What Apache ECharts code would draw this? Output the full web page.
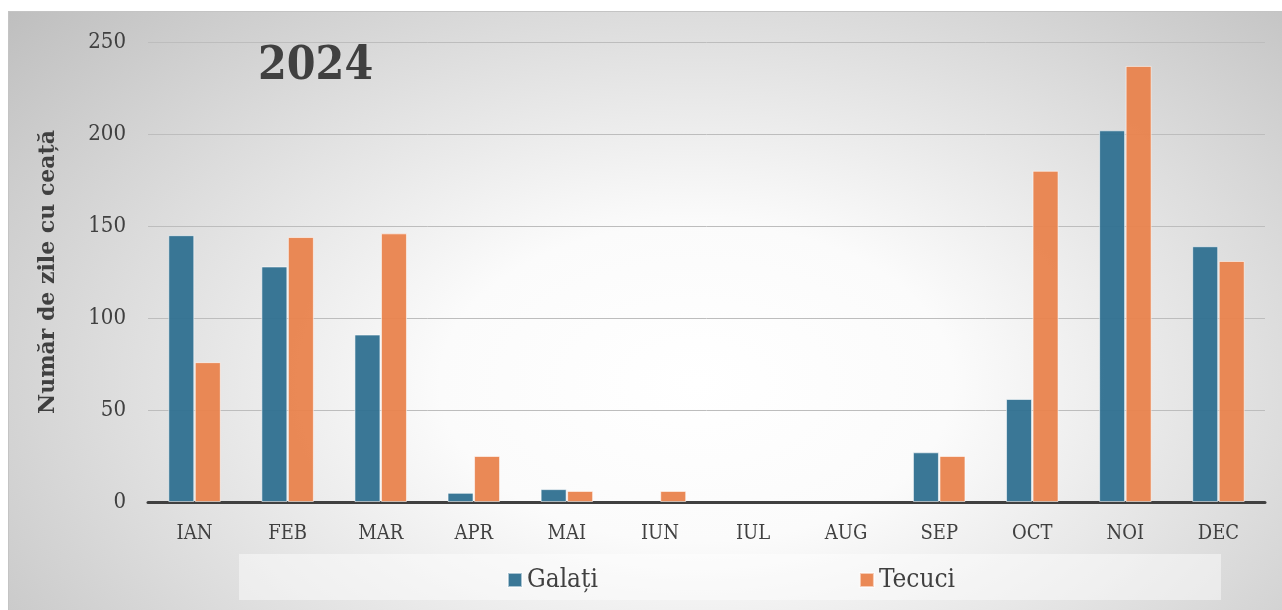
<!DOCTYPE html>
<html><head><meta charset="utf-8">
<script src="https://cdn.jsdelivr.net/npm/echarts@6/dist/echarts.min.js"></script>
<style>
html,body{margin:0;padding:0;background:#fff;width:1282px;height:610px;overflow:hidden}
#c{position:absolute;left:8px;top:11px;width:1274px;height:599px;border-top:1px solid #c4c4c4;border-left:1px solid #c4c4c4;box-sizing:border-box;
background:radial-gradient(ellipse 72% 95% at 54% 62%, #ffffff 0%, #fbfbfb 28%, #dcdcdc 65%, #bebebe 100%)}
</style></head>
<body><div id="c"></div>
<script>
const categories = ['IAN','FEB','MAR','APR','MAI','IUN','IUL','AUG','SEP','OCT','NOI','DEC'];
const galati = [145,128,91,5,7,0,0,0,27,56,202,139];
const tecuci = [76,144,146,25,6,6,0,0,25,180,237,131];
const yTicks = [0,50,100,150,200,250];
const FONT = '"DejaVu Serif Condensed","DejaVu Serif"';
const toItems = arr => arr.map(v => v === 0 ? {value:0,itemStyle:{borderWidth:0}} : v);
const chart = echarts.init(document.getElementById('c'), null, {renderer:'canvas'});
chart.setOption({
  animation:false,
  backgroundColor:'transparent',
  graphic:[
    {type:'rect',left:230,top:542,shape:{width:982,height:46},style:{fill:'rgba(255,255,255,0.45)'},z:0},
    {type:'text',left:249,top:32,style:{text:'2024',font:'bold 46px '+FONT,fill:'#404040'}}
  ],
  grid:{left:139,right:17,top:30,bottom:108,containLabel:false},
  legend:{data:['Galați','Tecuci'],left:493,top:550,itemWidth:14,itemHeight:14,itemGap:261,icon:'rect',
    textStyle:{fontFamily:FONT,fontSize:26,color:'#404040'}},
  xAxis:{type:'category',data:categories,
    axisLine:{lineStyle:{color:'#404040',width:3}},axisTick:{show:false},
    axisLabel:{fontFamily:FONT,fontSize:20,color:'#404040',margin:22}},
  yAxis:{type:'value',min:0,max:250,interval:50,
    name:'Număr de zile cu ceață',nameLocation:'middle',nameGap:89,nameRotate:90,
    nameTextStyle:{fontFamily:'"DejaVu Serif"',fontSize:22,fontWeight:'bold',color:'#404040'},
    axisLine:{show:false},axisTick:{show:false},
    axisLabel:{fontFamily:FONT,fontSize:22,color:'#404040',margin:22,
      formatter:v=>yTicks.includes(v)?String(v):''},
    splitLine:{lineStyle:{color:'#bdbdbd',width:1}}},
  series:[
    {name:'Galați',type:'bar',data:toItems(galati),barWidth:26,barGap:'2%',
      itemStyle:{color:'#2F7090',opacity:0.95,borderColor:'rgba(255,255,255,0.6)',borderWidth:1}},
    {name:'Tecuci',type:'bar',data:toItems(tecuci),barWidth:26,barGap:'2%',
      itemStyle:{color:'#E9834D',opacity:0.95,borderColor:'rgba(255,255,255,0.6)',borderWidth:1}}
  ]
});
</script></body></html>
